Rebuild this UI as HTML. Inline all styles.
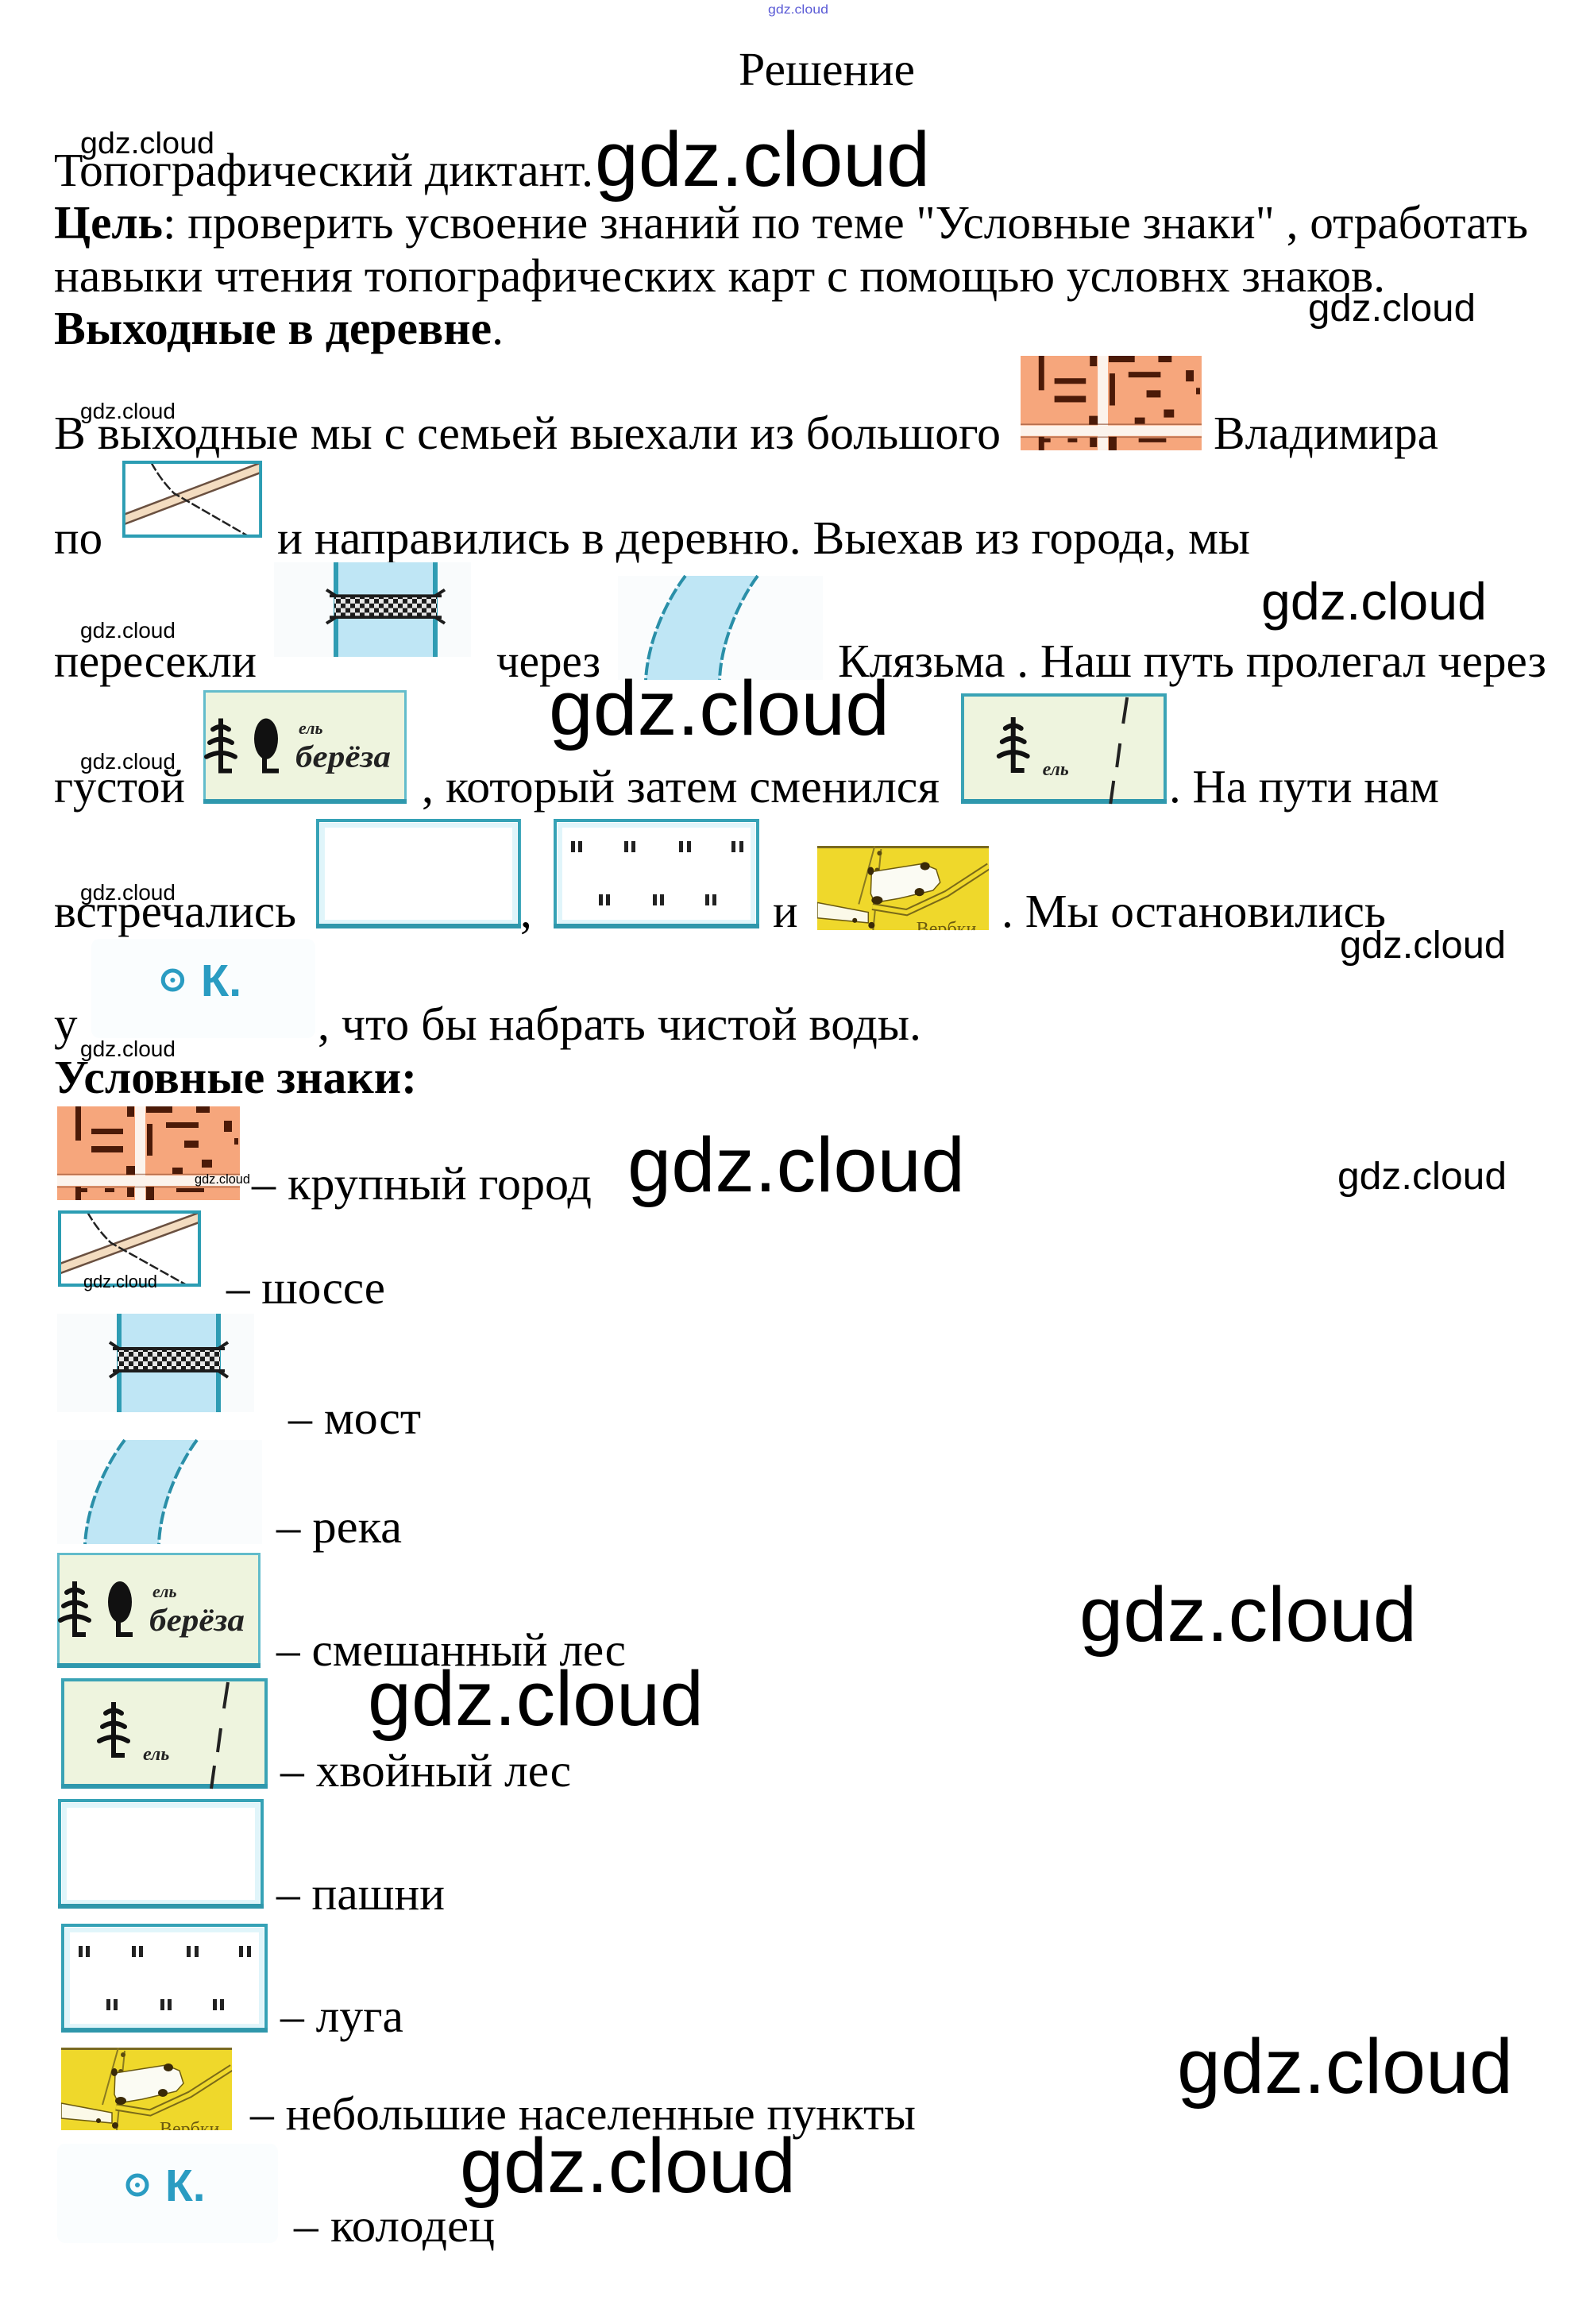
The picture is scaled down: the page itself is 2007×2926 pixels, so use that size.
<!DOCTYPE html>
<html><head><meta charset="utf-8"><style>
html,body{margin:0;padding:0;background:#fff;}
svg{display:block;}
text{white-space:pre;}
</style></head><body>
<svg xmlns="http://www.w3.org/2000/svg" width="2007" height="2926" viewBox="0 0 2007 2926">
<defs>
<pattern id="chk" width="12" height="12" patternUnits="userSpaceOnUse">
<rect width="12" height="12" fill="#1c1c1c"/><rect width="6" height="6" fill="#e6e6e6"/><rect x="6" y="6" width="6" height="6" fill="#e6e6e6"/>
</pattern>
<clipPath id="vclip"><rect width="215" height="104"/></clipPath>
<clipPath id="rclip"><rect x="2" y="2" width="176" height="92"/></clipPath>

<g id="city">
<rect width="230" height="118" fill="#f6a67c"/>
<rect x="98" y="0" width="13" height="118" fill="#fcf3ec"/>
<rect x="0" y="87" width="230" height="13" fill="#fcf3ec"/>
<line x1="0" y1="85.5" x2="230" y2="85.5" stroke="#8a4a30" stroke-width="1.5" opacity=".6"/>
<line x1="0" y1="101.5" x2="230" y2="101.5" stroke="#8a4a30" stroke-width="1.5" opacity=".6"/>
<g fill="#4b1a08">
<rect x="23" y="0" width="7" height="43"/><rect x="43" y="28" width="40" height="7"/><rect x="43" y="50" width="40" height="8"/>
<rect x="88" y="0" width="9" height="13"/><rect x="112" y="0" width="33" height="8"/><rect x="175" y="0" width="17" height="8"/>
<rect x="113" y="22" width="7" height="40"/><rect x="137" y="20" width="41" height="7"/><rect x="210" y="18" width="10" height="14"/>
<rect x="160" y="43" width="18" height="9"/><rect x="223" y="40" width="5" height="8"/><rect x="182" y="67" width="13" height="10"/>
<rect x="145" y="77" width="13" height="8"/><rect x="87" y="75" width="11" height="11"/>
<rect x="23" y="101" width="7" height="17"/><rect x="28" y="103" width="10" height="5"/><rect x="60" y="103" width="12" height="5"/>
<rect x="88" y="102" width="9" height="12"/><rect x="112" y="101" width="10" height="17"/><rect x="150" y="103" width="35" height="5"/>
</g>
</g>

<g id="road">
<rect x="2" y="2" width="176" height="92" fill="#fff"/>
<g clip-path="url(#rclip)">
<line x1="0" y1="74" x2="180" y2="8" stroke="#6a5040" stroke-width="14"/>
<line x1="0" y1="74" x2="180" y2="8" stroke="#f3dcc0" stroke-width="9"/>
<path d="M37,2 Q50,25 67,41 L162,94" fill="none" stroke="#222" stroke-width="2.5" stroke-dasharray="12 3"/>
</g>
<rect x="2" y="2" width="176" height="92" fill="none" stroke="#2c9db3" stroke-width="4"/>
</g>

<g id="bridge">
<rect width="248" height="124" fill="#f9fbfc"/>
<rect x="75" y="0" width="131" height="124" fill="#bfe6f5"/>
<rect x="75" y="0" width="6" height="124" fill="#2f9cb3"/>
<rect x="200" y="0" width="6" height="124" fill="#2f9cb3"/>
<rect x="76" y="44" width="129" height="28" fill="url(#chk)"/>
<line x1="70" y1="44" x2="211" y2="44" stroke="#1c1c1c" stroke-width="4"/>
<line x1="70" y1="72" x2="211" y2="72" stroke="#1c1c1c" stroke-width="4"/>
<path d="M78,44 L66,36 M203,44 L215,36 M78,72 L66,80 M203,72 L215,80" stroke="#1c1c1c" stroke-width="4" fill="none"/>
</g>

<g id="river">
<rect width="258" height="131" fill="#fafcfd"/>
<path d="M85,0 C62,30 38,80 35,131 L128,131 C130,80 155,28 176,0 Z" fill="#bfe6f5"/>
<path d="M85,0 C62,30 38,80 35,131" fill="none" stroke="#2a8fa8" stroke-width="4" stroke-dasharray="16 4"/>
<path d="M176,0 C155,28 130,80 128,131" fill="none" stroke="#2a8fa8" stroke-width="4" stroke-dasharray="16 4"/>
</g>

<g id="conif">
<path d="M12,50 Q22,43 32,50 M8,67 Q22,58 36,67 M4,85 Q22,75 40,85" fill="none" stroke="#111" stroke-width="6" stroke-linecap="round"/>
<path d="M22,36 L22,103 L36,103" fill="none" stroke="#111" stroke-width="6"/>
</g>

<g id="mixed">
<rect x="1.5" y="1.5" width="253" height="142" fill="#eef4de" stroke="#62bccb" stroke-width="3"/>
<rect x="0" y="139" width="256" height="6" fill="#2f98ad"/>
<use href="#conif"/>
<ellipse cx="79" cy="62" rx="15" ry="26" fill="#111"/>
<path d="M77,78 L77,103 L95,103" fill="none" stroke="#111" stroke-width="6"/>
<text x="120" y="56" font-family="Liberation Serif, serif" font-style="italic" font-weight="bold" font-size="22" fill="#222">ель</text>
<text x="116" y="98" font-family="Liberation Serif, serif" font-style="italic" font-weight="bold" font-size="40" fill="#222" textLength="120" lengthAdjust="spacingAndGlyphs">берёза</text>
</g>

<g id="conforest">
<rect x="2" y="2" width="256" height="135" fill="#eef4de" stroke="#3aa3b5" stroke-width="4"/>
<rect x="0" y="133" width="260" height="6" fill="#2f98ad"/>
<use href="#conif" transform="translate(44,-6)"/>
<text x="103" y="103" font-family="Liberation Serif, serif" font-style="italic" font-weight="bold" font-size="24" fill="#222">ель</text>
<path d="M210,5 L205,38 M201,63 L197,93 M193,110 L189,139" stroke="#222" stroke-width="4" fill="none"/>
</g>

<g id="box">
<rect x="2" y="2" width="256" height="134" fill="#fff" stroke="#35a2b6" stroke-width="4"/>
<rect x="8" y="8" width="244" height="122" fill="none" stroke="#e0f5fa" stroke-width="6"/>
<rect x="0" y="132" width="260" height="6" fill="#2f97ab"/>
</g>

<g id="ticks" fill="#222">
<rect x="22" y="28" width="5" height="14"/><rect x="31" y="28" width="5" height="14"/>
<rect x="89" y="28" width="5" height="14"/><rect x="98" y="28" width="5" height="14"/>
<rect x="158" y="28" width="5" height="14"/><rect x="168" y="28" width="5" height="14"/>
<rect x="224" y="28" width="5" height="14"/><rect x="234" y="28" width="5" height="14"/>
<rect x="57" y="95" width="5" height="14"/><rect x="66" y="95" width="5" height="14"/>
<rect x="125" y="95" width="5" height="14"/><rect x="134" y="95" width="5" height="14"/>
<rect x="191" y="95" width="5" height="14"/><rect x="200" y="95" width="5" height="14"/>
</g>

<g id="village">
<g clip-path="url(#vclip)">
<rect width="215" height="104" fill="#efd82b"/>
<rect width="215" height="3" fill="#7a6a20"/>
<path d="M72,0 L52,72" stroke="#8a7a20" stroke-width="2" fill="none"/>
<path d="M80,4 L70,104" stroke="#8a7a20" stroke-width="2" fill="none"/>
<circle cx="78" cy="9" r="3" fill="#5a4a10"/><circle cx="75" cy="30" r="3" fill="#5a4a10"/><circle cx="68" cy="98" r="4" fill="#3a2a08"/>
<path d="M69,75 L112,82 L162,59 L215,25" stroke="#7a6a18" stroke-width="9" fill="none"/>
<path d="M69,75 L112,82 L162,59 L215,25" stroke="#efd82b" stroke-width="5" fill="none"/>
<polygon points="68,32 132,22 149,29 154,45 145,55 102,65 72,70 67,59" fill="#fbfbf3" stroke="#6b5a10" stroke-width="1.5"/>
<ellipse cx="135" cy="25" rx="6" ry="5" fill="#3a2a08"/><ellipse cx="128" cy="57" rx="6" ry="5" fill="#3a2a08"/>
<ellipse cx="75" cy="67" rx="7" ry="5" fill="#3a2a08"/><ellipse cx="67" cy="31" rx="4" ry="5" fill="#3a2a08"/>
<polygon points="0,70 64,82 64,95 0,89" fill="#fbf9e8" stroke="#6b5a10" stroke-width="1.5"/>
<circle cx="47" cy="92" r="3" fill="#3a2a08"/>
<text x="124" y="110" font-family="Liberation Serif, serif" font-size="24" fill="#6b5a10">Вербки</text>
</g>
</g>

<g id="well">
<rect width="278" height="125" rx="10" fill="#fafdfe"/>
<circle cx="101" cy="52" r="12" fill="none" stroke="#2a9cc2" stroke-width="5"/>
<circle cx="101" cy="52" r="3" fill="#2a9cc2"/>
<text x="136" y="72" font-family="Liberation Sans, sans-serif" font-weight="bold" font-size="57" fill="#2a9cc2">К.</text>
</g>
</defs>

<!-- top watermark -->
<text x="967" y="17" font-family="Liberation Sans, sans-serif" font-size="16" fill="#5b5bd6" textLength="76" lengthAdjust="spacingAndGlyphs">gdz.cloud</text>

<g font-family="Liberation Serif, serif" font-size="59" fill="#000">
<text x="930" y="107" textLength="222" lengthAdjust="spacingAndGlyphs">Решение</text>
<text x="68" y="234" textLength="679" lengthAdjust="spacingAndGlyphs">Топографический диктант.</text>
<text x="68" y="300" textLength="1856" lengthAdjust="spacingAndGlyphs"><tspan font-weight="bold">Цель</tspan>: проверить усвоение знаний по теме "Условные знаки" , отработать</text>
<text x="68" y="367" textLength="1676" lengthAdjust="spacingAndGlyphs">навыки чтения топографических карт с помощью условнх знаков.</text>
<text x="68" y="433" textLength="566" lengthAdjust="spacingAndGlyphs"><tspan font-weight="bold">Выходные в деревне</tspan>.</text>
<text x="68" y="565" textLength="1192" lengthAdjust="spacingAndGlyphs">В выходные мы с семьей выехали из большого</text>
<text x="1528" y="565" textLength="283" lengthAdjust="spacingAndGlyphs">Владимира</text>
<text x="68" y="697">по</text>
<text x="349" y="697" textLength="1225" lengthAdjust="spacingAndGlyphs">и направились в деревню. Выехав из города, мы</text>
<text x="68" y="852" textLength="255" lengthAdjust="spacingAndGlyphs">пересекли</text>
<text x="625" y="852" textLength="131" lengthAdjust="spacingAndGlyphs">через</text>
<text x="1055" y="852" textLength="892" lengthAdjust="spacingAndGlyphs">Клязьма . Наш путь пролегал через</text>
<text x="68" y="1010" textLength="165" lengthAdjust="spacingAndGlyphs">густой</text>
<text x="531" y="1010" textLength="652" lengthAdjust="spacingAndGlyphs">, который затем сменился</text>
<text x="1472" y="1010" textLength="340" lengthAdjust="spacingAndGlyphs">. На пути нам</text>
<text x="68" y="1167" textLength="305" lengthAdjust="spacingAndGlyphs">встречались</text>
<text x="655" y="1167">,</text>
<text x="973" y="1167">и</text>
<text x="1261" y="1167" textLength="484" lengthAdjust="spacingAndGlyphs">. Мы остановились</text>
<text x="68" y="1309">у</text>
<text x="400" y="1309" textLength="760" lengthAdjust="spacingAndGlyphs">, что бы набрать чистой воды.</text>
<text x="68" y="1376" font-weight="bold" textLength="457" lengthAdjust="spacingAndGlyphs">Условные знаки:</text>

<text x="317" y="1510" textLength="428" lengthAdjust="spacingAndGlyphs">– крупный город</text>
<text x="285" y="1641" textLength="200" lengthAdjust="spacingAndGlyphs">– шоссе</text>
<text x="363" y="1805" textLength="167" lengthAdjust="spacingAndGlyphs">– мост</text>
<text x="348" y="1942" textLength="158" lengthAdjust="spacingAndGlyphs">– река</text>
<text x="348" y="2097" textLength="440" lengthAdjust="spacingAndGlyphs">– смешанный лес</text>
<text x="353" y="2249" textLength="366" lengthAdjust="spacingAndGlyphs">– хвойный лес</text>
<text x="348" y="2404" textLength="212" lengthAdjust="spacingAndGlyphs">– пашни</text>
<text x="353" y="2558" textLength="155" lengthAdjust="spacingAndGlyphs">– луга</text>
<text x="315" y="2681" textLength="838" lengthAdjust="spacingAndGlyphs">– небольшие населенные пункты</text>
<text x="370" y="2822" textLength="253" lengthAdjust="spacingAndGlyphs">– колодец</text>
</g>

<!-- icons, story section -->
<use href="#city" transform="translate(1285,448) scale(0.991,1.008)"/>
<use href="#road" transform="translate(154,580) scale(0.978,1.01)"/>
<use href="#bridge" transform="translate(345,708) scale(1,0.96)"/>
<use href="#river" transform="translate(778,725)"/>
<use href="#mixed" transform="translate(256,869) scale(1,0.986)"/>
<use href="#conforest" transform="translate(1210,873) scale(0.996,1)"/>
<use href="#box" transform="translate(398,1031) scale(0.992,1)"/>
<use href="#box" transform="translate(697,1031) scale(0.996,1)"/>
<use href="#ticks" transform="translate(697,1031)"/>
<use href="#village" transform="translate(1029,1065) scale(1.005,1.02)"/>
<use href="#well" transform="translate(115,1182) scale(1.014,1)"/>

<!-- icons, legend -->
<use href="#city" transform="translate(72,1393)"/>
<use href="#road" transform="translate(73,1524)"/>
<use href="#bridge" transform="translate(72,1654)"/>
<use href="#river" transform="translate(72,1813)"/>
<use href="#mixed" transform="translate(72,1955)"/>
<use href="#conforest" transform="translate(77,2113)"/>
<use href="#box" transform="translate(73,2265) scale(0.996,1)"/>
<use href="#box" transform="translate(77,2422) scale(1,0.993)"/>
<use href="#ticks" transform="translate(77,2422)"/>
<use href="#village" transform="translate(77,2578)"/>
<use href="#well" transform="translate(72,2699)"/>

<!-- watermarks -->
<g font-family="Liberation Sans, sans-serif" fill="#000">
<text x="101" y="193" font-size="38" textLength="169" lengthAdjust="spacingAndGlyphs">gdz.cloud</text>
<text x="749" y="234" font-size="97" textLength="422" lengthAdjust="spacingAndGlyphs">gdz.cloud</text>
<text x="1647" y="404" font-size="48" textLength="211" lengthAdjust="spacingAndGlyphs">gdz.cloud</text>
<text x="101" y="527" font-size="28" textLength="120" lengthAdjust="spacingAndGlyphs">gdz.cloud</text>
<text x="101" y="803" font-size="28" textLength="120" lengthAdjust="spacingAndGlyphs">gdz.cloud</text>
<text x="1588" y="780" font-size="66" textLength="284" lengthAdjust="spacingAndGlyphs">gdz.cloud</text>
<text x="101" y="968" font-size="28" textLength="120" lengthAdjust="spacingAndGlyphs">gdz.cloud</text>
<text x="691" y="925" font-size="97" textLength="429" lengthAdjust="spacingAndGlyphs">gdz.cloud</text>
<text x="101" y="1133" font-size="28" textLength="120" lengthAdjust="spacingAndGlyphs">gdz.cloud</text>
<text x="1687" y="1206" font-size="48" textLength="209" lengthAdjust="spacingAndGlyphs">gdz.cloud</text>
<text x="101" y="1330" font-size="28" textLength="120" lengthAdjust="spacingAndGlyphs">gdz.cloud</text>
<text x="245" y="1490" font-size="17" textLength="70" lengthAdjust="spacingAndGlyphs">gdz.cloud</text>
<text x="790" y="1500" font-size="97" textLength="425" lengthAdjust="spacingAndGlyphs">gdz.cloud</text>
<text x="1684" y="1497" font-size="48" textLength="213" lengthAdjust="spacingAndGlyphs">gdz.cloud</text>
<text x="105" y="1621" font-size="22" textLength="93" lengthAdjust="spacingAndGlyphs">gdz.cloud</text>
<text x="1359" y="2066" font-size="97" textLength="425" lengthAdjust="spacingAndGlyphs">gdz.cloud</text>
<text x="463" y="2172" font-size="97" textLength="423" lengthAdjust="spacingAndGlyphs">gdz.cloud</text>
<text x="1482" y="2635" font-size="97" textLength="423" lengthAdjust="spacingAndGlyphs">gdz.cloud</text>
<text x="579" y="2760" font-size="97" textLength="423" lengthAdjust="spacingAndGlyphs">gdz.cloud</text>
</g>
</svg>
</body></html>
